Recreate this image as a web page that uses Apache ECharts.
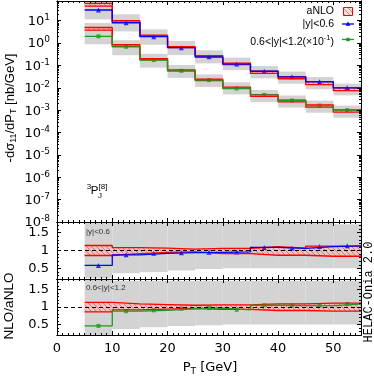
<!DOCTYPE html>
<html>
<head>
<meta charset="utf-8">
<title>3PJ[8] NLO vs aNLO</title>
<script src="https://cdn.jsdelivr.net/npm/echarts@6.0.0/dist/echarts.min.js"></script>
<style>html,body{margin:0;padding:0;background:#fff;}</style>
</head>
<body>
<div id="main" style="width:374px;height:378px;"></div>
<script>
// bins in PT [GeV]
var binEdges = [5, 10, 15, 20, 25, 30, 35, 40, 45, 50, 55];
var binCenters = [7.5, 12.5, 17.5, 22.5, 27.5, 32.5, 37.5, 42.5, 47.5, 52.5];

// main panel, |y|<0.6  [nb/GeV]
var nlo1 = [30, 8.1, 1.92, 0.62, 0.243, 0.115, 0.055, 0.031, 0.0184, 0.0100];
var nlo1BandHi = [124, 19.3, 4.08, 1.25, 0.474, 0.222, 0.0938, 0.0531, 0.0302, 0.0154];
var nlo1BandLo = [11.4, 3.31, 0.84, 0.29, 0.123, 0.0624, 0.0264, 0.0152, 0.0086, 0.0046];
var anlo1Hi = [58.9, 9.94, 2.23, 0.686, 0.271, 0.127, 0.056, 0.0312, 0.0187, 0.00995];
var anlo1Lo = [44.5, 8.37, 1.99, 0.634, 0.234, 0.110, 0.044, 0.0253, 0.0139, 0.00742];

// main panel, 0.6<|y|<1.2 (x0.1)
var nlo2 = [2.0, 0.68, 0.173, 0.057, 0.022, 0.0093, 0.0048, 0.0027, 0.0016, 0.0010];
var nlo2BandHi = [7.92, 1.34, 0.331, 0.104, 0.0395, 0.0176, 0.00795, 0.00452, 0.00268, 0.0016];
var nlo2BandLo = [0.88, 0.285, 0.0798, 0.0276, 0.0109, 0.00505, 0.00229, 0.0013, 0.00077, 0.00046];
var anlo2Hi = [4.97, 0.839, 0.203, 0.063, 0.0241, 0.0107, 0.00498, 0.00283, 0.00171, 0.00102];
var anlo2Lo = [3.78, 0.708, 0.179, 0.0576, 0.0211, 0.0094, 0.00411, 0.00234, 0.00136, 0.00081];

// ratio NLO/aNLO, |y|<0.6
var ratio1 = [0.58, 0.88, 0.92, 0.94, 0.95, 0.96, 1.085, 1.06, 1.11, 1.13];
var ratio1GreyHi = [2.4, 2.1, 1.95, 1.9, 1.85, 1.85, 1.85, 1.82, 1.82, 1.74];
var ratio1GreyLo = [0.22, 0.36, 0.40, 0.44, 0.48, 0.50, 0.50, 0.50, 0.50, 0.50];
var ratio1AnloHi = [1.14, 1.08, 1.066, 1.04, 1.057, 1.057, 1.105, 1.067, 1.124, 1.124];
var ratio1AnloLo = [0.86, 0.91, 0.95, 0.96, 0.914, 0.914, 0.867, 0.867, 0.838, 0.838];

// ratio NLO/aNLO, 0.6<|y|<1.2
var ratio2 = [0.46, 0.88, 0.905, 0.95, 0.97, 0.92, 1.05, 1.04, 1.04, 1.085];
var ratio2GreyHi = [1.8, 1.74, 1.74, 1.74, 1.74, 1.74, 1.74, 1.74, 1.74, 1.74];
var ratio2GreyLo = [0.2, 0.37, 0.42, 0.46, 0.48, 0.50, 0.50, 0.50, 0.50, 0.50];
var ratio2AnloHi = [1.13, 1.09, 1.07, 1.05, 1.06, 1.06, 1.09, 1.09, 1.11, 1.11];
var ratio2AnloLo = [0.86, 0.92, 0.94, 0.96, 0.93, 0.93, 0.90, 0.90, 0.88, 0.88];

// tick labels
var xTicks = [0, 10, 20, 30, 40, 50];
var logTicks = [-8, -7, -6, -5, -4, -3, -2, -1, 0, 1];
var ratioTicks = [0.5, 1, 1.5];

var GREY = '#d3d3d3', RED = '#ff0000', BLUE = '#0000ff', GREEN = '#1f9a1f';
var SANS = 'DejaVu Sans', HELV = 'Liberation Sans';

var myChart = echarts.init(document.getElementById('main'));

// red hatch pattern
var hatch = document.createElement('canvas');
hatch.width = 5; hatch.height = 5;
var hc = hatch.getContext('2d');
hc.fillStyle = 'rgba(255,180,180,0.45)';
hc.fillRect(0, 0, 5, 5);
hc.strokeStyle = 'rgba(255,50,50,0.75)';
hc.lineWidth = 0.8;
hc.beginPath();
for (var k = -5; k <= 5; k += 5) { hc.moveTo(k, 0); hc.lineTo(k + 5, 5); }
hc.stroke();
var hatchFill = { image: hatch, repeat: 'repeat' };

function lg(v) { return Math.log10(v); }
function id(v) { return v; }

function rectSeries(g, lo, hi, fill, tf) {
  var data = lo.map(function (v, i) { return [binEdges[i], binEdges[i + 1], tf(lo[i]), tf(hi[i])]; });
  return {
    type: 'custom', xAxisIndex: 4 * g, yAxisIndex: 4 * g, silent: true, data: data,
    encode: { x: [0, 1], y: [2, 3] },
    renderItem: function (params, api) {
      var p0 = api.coord([api.value(0), api.value(3)]);
      var p1 = api.coord([api.value(1), api.value(2)]);
      var cs = params.coordSys;
      var shape = echarts.graphic.clipRectByRect(
        { x: p0[0], y: p0[1], width: p1[0] - p0[0], height: p1[1] - p0[1] },
        { x: cs.x, y: cs.y, width: cs.width, height: cs.height });
      return shape && { type: 'rect', shape: shape, style: { fill: fill } };
    }
  };
}

function stepSeries(g, vals, color, tf, extra) {
  var data = vals.map(function (v, i) { return [binEdges[i], tf(v)]; });
  data.push([binEdges[binEdges.length - 1], tf(vals[vals.length - 1])]);
  var s = {
    type: 'line', step: 'end', xAxisIndex: 4 * g, yAxisIndex: 4 * g, data: data,
    symbol: 'none', silent: true, lineStyle: { color: color, width: 1.3 }
  };
  if (extra) s.markLine = extra;
  return s;
}

function pointSeries(g, vals, color, symbol, size, tf) {
  return {
    type: 'scatter', xAxisIndex: 4 * g, yAxisIndex: 4 * g, silent: true,
    data: vals.map(function (v, i) { return [binCenters[i], tf(v)]; }),
    symbol: symbol, symbolSize: size, itemStyle: { color: color }
  };
}

var dashOne = {
  silent: true, symbol: ['none', 'none'], label: { show: false },
  lineStyle: { color: '#000', type: [4, 3], width: 1 },
  data: [{ yAxis: 1 }]
};

// axes
var xMinor = [];
for (var i = 1; i < 55; i++) if (i % 10 !== 0) xMinor.push(i);
var logMinor = [];
for (var n = -8; n <= 1; n++) for (var m = 2; m <= 9; m++) {
  var lv = n + Math.log10(m);
  if (lv < 1.88) logMinor.push(lv);
}
var ratioMinor = [];
for (var r = 3; r <= 17; r++) if (r % 5 !== 0) ratioMinor.push(r / 10);

function axisBase(g) {
  return {
    type: 'value', gridIndex: g, z: 10, splitLine: { show: false },
    axisLine: { show: true, onZero: false, lineStyle: { color: '#000', width: 1 } },
    axisLabel: { show: false }
  };
}

var xAxes = [], yAxes = [];
[0, 1, 2].forEach(function (g) {
  [['bottom', xTicks, 4], ['top', xTicks, 4], ['bottom', xMinor, 2], ['top', xMinor, 2]].forEach(function (d, j) {
    var a = axisBase(g);
    a.position = d[0]; a.min = 0; a.max = 55; a.interval = 10;
    a.axisTick = { show: true, inside: true, length: d[2], customValues: d[1], lineStyle: { color: '#000' } };
    if (g === 2 && j === 0) {
      a.axisLabel = { show: true, customValues: xTicks, color: '#000', fontFamily: SANS, fontSize: 13, margin: 7 };
    }
    xAxes.push(a);
  });
  var isLog = g === 0;
  var majors = isLog ? logTicks : ratioTicks;
  var minors = isLog ? logMinor : ratioMinor;
  [['left', majors, 4], ['right', majors, 4], ['left', minors, 2], ['right', minors, 2]].forEach(function (d, j) {
    var a = axisBase(g);
    a.position = d[0];
    a.min = isLog ? -8 : 0.2; a.max = isLog ? 1.88 : 1.8;
    a.axisTick = { show: true, inside: true, length: d[2], customValues: d[1], lineStyle: { color: '#000' } };
    if (j === 0) {
      a.axisLabel = isLog ? {
        show: true, customValues: logTicks, margin: 7, color: '#000',
        formatter: function (v) { return '{b|10}{s|' + Math.round(v) + '}'; },
        rich: {
          b: { fontFamily: SANS, fontSize: 13, lineHeight: 15, verticalAlign: 'bottom', color: '#000' },
          s: { fontFamily: SANS, fontSize: 9, lineHeight: 10, verticalAlign: 'top', color: '#000' }
        }
      } : {
        show: true, customValues: ratioTicks, margin: 8, color: '#000', fontFamily: SANS, fontSize: 13
      };
    }
    yAxes.push(a);
  });
});

var series = [
  // main panel
  rectSeries(0, nlo1BandLo, nlo1BandHi, GREY, lg),
  rectSeries(0, nlo2BandLo, nlo2BandHi, GREY, lg),
  rectSeries(0, anlo1Lo, anlo1Hi, hatchFill, lg),
  rectSeries(0, anlo2Lo, anlo2Hi, hatchFill, lg),
  stepSeries(0, anlo1Hi, RED, lg), stepSeries(0, anlo1Lo, RED, lg),
  stepSeries(0, anlo2Hi, RED, lg), stepSeries(0, anlo2Lo, RED, lg),
  stepSeries(0, nlo1, BLUE, lg), stepSeries(0, nlo2, GREEN, lg),
  pointSeries(0, nlo1, BLUE, 'triangle', 5, lg),
  pointSeries(0, nlo2, GREEN, 'rect', 4, lg),
  // ratio |y|<0.6
  rectSeries(1, ratio1GreyLo, ratio1GreyHi, GREY, id),
  rectSeries(1, ratio1AnloLo, ratio1AnloHi, hatchFill, id),
  stepSeries(1, ratio1AnloHi, RED, id), stepSeries(1, ratio1AnloLo, RED, id),
  stepSeries(1, ratio1, BLUE, id, dashOne),
  pointSeries(1, ratio1, BLUE, 'triangle', 5, id),
  // ratio 0.6<|y|<1.2
  rectSeries(2, ratio2GreyLo, ratio2GreyHi, GREY, id),
  rectSeries(2, ratio2AnloLo, ratio2AnloHi, hatchFill, id),
  stepSeries(2, ratio2AnloHi, RED, id), stepSeries(2, ratio2AnloLo, RED, id),
  stepSeries(2, ratio2, GREEN, id, dashOne),
  pointSeries(2, ratio2, GREEN, 'rect', 4, id)
];

function txt(x, y, text, opts) {
  var st = { text: text, fill: '#000', align: 'center', verticalAlign: 'middle', font: '13px "Liberation Sans"' };
  for (var key in (opts.style || {})) st[key] = opts.style[key];
  return { type: 'text', x: x, y: y, rotation: opts.rotation || 0, style: st, z: 20, silent: true };
}
var subRich = { sub: { fontFamily: HELV, fontSize: 9, lineHeight: 9, verticalAlign: 'bottom' },
                m: { fontFamily: HELV, fontSize: 13, lineHeight: 16 } };

var graphic = [
  txt(10, 108, '{m|-dσ}{sub|11}{m|/dP}{sub|T}{m| [nb/GeV]}', { rotation: Math.PI / 2, style: { rich: subRich } }),
  txt(9, 306, 'NLO/aNLO', { rotation: Math.PI / 2, style: { font: '13.5px "Liberation Sans"' } }),
  txt(210, 368, '{m|P}{sub|T}{m| [GeV]}', { style: { rich: {
    m: { fontFamily: SANS, fontSize: 13, lineHeight: 16 },
    sub: { fontFamily: SANS, fontSize: 9, lineHeight: 9, verticalAlign: 'bottom' } } } }),
  txt(369, 292, 'HELAC-Onia 2.0', { rotation: Math.PI / 2, style: { font: '12px "Liberation Mono"' } }),
  // 3PJ[8]
  txt(89, 187, '3', { style: { font: '8px "Liberation Sans"' } }),
  txt(94.5, 190.5, 'P', { style: { font: '11.5px "Liberation Sans"' } }),
  txt(103, 186.5, '[8]', { style: { font: '8px "Liberation Sans"' } }),
  txt(100, 195.5, 'J', { style: { font: '8px "Liberation Sans"' } }),
  // panel tags
  txt(86, 232, '|y|<0.6', { style: { align: 'left', fill: '#333', font: '8px "Liberation Sans"' } }),
  txt(86, 288, '0.6<|y|<1.2', { style: { align: 'left', fill: '#333', font: '8px "Liberation Sans"' } }),
  // legend
  txt(334, 11, 'aNLO', { style: { align: 'right', font: '10.5px "Liberation Sans"' } }),
  { type: 'rect', shape: { x: 343.5, y: 7.5, width: 9, height: 8 }, style: { fill: hatchFill, stroke: RED, lineWidth: 1 }, z: 20, silent: true },
  txt(334, 24, '|y|<0.6', { style: { align: 'right', font: '10.5px "Liberation Sans"' } }),
  { type: 'line', shape: { x1: 342, y1: 24, x2: 354, y2: 24 }, style: { stroke: BLUE, lineWidth: 1.3 }, z: 20, silent: true },
  { type: 'polygon', shape: { points: [[348, 21.5], [345.6, 25.8], [350.4, 25.8]] }, style: { fill: BLUE }, z: 20, silent: true },
  txt(334, 41, '{m|0.6<|y|<1.2(×10}{s|-1}{m|)}', { style: { align: 'right', rich: {
    m: { fontFamily: HELV, fontSize: 10.5, lineHeight: 14, verticalAlign: 'bottom' },
    s: { fontFamily: HELV, fontSize: 7.5, lineHeight: 8, verticalAlign: 'top' } } } }),
  { type: 'line', shape: { x1: 342, y1: 39.5, x2: 354, y2: 39.5 }, style: { stroke: GREEN, lineWidth: 1.3 }, z: 20, silent: true },
  { type: 'rect', shape: { x: 346.3, y: 37.8, width: 3.4, height: 3.4 }, style: { fill: GREEN }, z: 20, silent: true }
];

var option = {
  animation: false,
  grid: [
    { left: 57, right: 13, top: 1, height: 221, containLabel: false, outerBoundsMode: 'none' },
    { left: 57, right: 13, top: 222, height: 57, containLabel: false, outerBoundsMode: 'none' },
    { left: 57, right: 13, top: 279, height: 56, containLabel: false, outerBoundsMode: 'none' }
  ],
  xAxis: xAxes,
  yAxis: yAxes,
  series: series,
  graphic: graphic
};
myChart.setOption(option);
</script>
</body>
</html>
